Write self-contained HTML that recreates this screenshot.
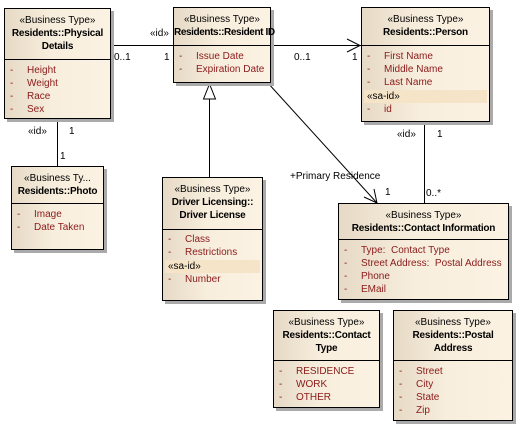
<!DOCTYPE html>
<html><head><meta charset="utf-8"><style>
body{margin:0;width:522px;height:428px;background:#fff;position:relative;overflow:hidden;font-family:"Liberation Sans",Arial,sans-serif;font-size:10px;}
.b{position:absolute;border:1px solid #000;background:linear-gradient(90deg,#e6dac6,#f8eedd 45%,#fbf2e3);box-shadow:3px 3px 0 #aaa;box-sizing:border-box;}
.h{text-align:center;border-bottom:1px solid #000;box-sizing:border-box;padding-top:5px;line-height:13px;white-space:nowrap;}
.h b{font-weight:bold;color:#000;letter-spacing:-0.2px;}
.r{position:relative;height:13px;line-height:13px;color:#8b1a1a;white-space:nowrap;}
.r span{position:absolute;left:5px;}
.r i{font-style:normal;position:absolute;left:22px;}
.sa{margin:1px 2px 0;background:#f6e4c8;height:13px;line-height:13px;padding-left:3px;color:#000;}
.t{position:absolute;white-space:nowrap;line-height:11px;}
</style></head><body>
<svg width="522" height="428" style="position:absolute;left:0;top:0" xmlns="http://www.w3.org/2000/svg">
<g stroke="#000" fill="none" stroke-width="1">
<line x1="110" y1="45.5" x2="173" y2="45.5"/>
<line x1="270" y1="45.5" x2="361" y2="45.5"/>
<polyline points="347,39 360,45.5 347,52"/>
<line x1="57.5" y1="118" x2="57.5" y2="166"/>
<line x1="209.5" y1="99" x2="209.5" y2="177"/>
<polygon points="209.5,84 203.5,99 215.5,99" fill="#fff"/>
<line x1="267" y1="82" x2="377" y2="203"/>
<polyline points="364,197 377,203 374,189"/>
<line x1="424.5" y1="121" x2="424.5" y2="203"/>
</g></svg>
<div class="t" style="left:150px;top:28px">«id»</div>
<div class="t" style="left:114px;top:52px">0..1</div>
<div class="t" style="left:164px;top:52px">1</div>
<div class="t" style="left:294px;top:52px">0..1</div>
<div class="t" style="left:352px;top:52px">1</div>
<div class="t" style="left:28px;top:126px">«id»</div>
<div class="t" style="left:69px;top:126px">1</div>
<div class="t" style="left:60px;top:151px">1</div>
<div class="t" style="left:290px;top:171px">+Primary Residence</div>
<div class="t" style="left:385px;top:187px">1</div>
<div class="t" style="left:397px;top:129px">«id»</div>
<div class="t" style="left:437px;top:129px">1</div>
<div class="t" style="left:426px;top:188px">0..*</div>

<div class="b" style="left:4px;top:8px;width:107px;height:111px">
<div class="h" style="height:51px">«Business Type»<br><b>Residents::Physical<br>Details</b></div>
<div style="padding-top:4px"><div class="r"><span>-</span><i>Height</i></div><div class="r"><span>-</span><i>Weight</i></div><div class="r"><span>-</span><i>Race</i></div><div class="r"><span>-</span><i>Sex</i></div></div>
</div>

<div class="b" style="left:173px;top:7px;width:98px;height:76px">
<div class="h" style="height:38px">«Business Type»<br><b style="letter-spacing:-0.4px">Residents::Resident ID</b></div>
<div style="padding-top:4px"><div class="r"><span>-</span><i>Issue Date</i></div><div class="r"><span>-</span><i>Expiration Date</i></div></div>
</div>

<div class="b" style="left:361px;top:7px;width:129px;height:115px">
<div class="h" style="height:38px">«Business Type»<br><b>Residents::Person</b></div>
<div style="padding-top:4px"><div class="r"><span>-</span><i>First Name</i></div><div class="r"><span>-</span><i>Middle Name</i></div><div class="r"><span>-</span><i>Last Name</i></div>
<div class="sa">«sa-id»</div><div class="r"><span>-</span><i>id</i></div></div>
</div>

<div class="b" style="left:11px;top:166px;width:93px;height:84px">
<div class="h" style="height:37px">«Business Ty...<br><b>Residents::Photo</b></div>
<div style="padding-top:4px"><div class="r"><span>-</span><i>Image</i></div><div class="r"><span>-</span><i>Date Taken</i></div></div>
</div>

<div class="b" style="left:162px;top:177px;width:101px;height:124px">
<div class="h" style="height:52px">«Business Type»<br><b>Driver Licensing::<br>Driver License</b></div>
<div style="padding-top:3px"><div class="r"><span>-</span><i>Class</i></div><div class="r"><span>-</span><i>Restrictions</i></div>
<div class="sa">«sa-id»</div><div class="r"><span>-</span><i>Number</i></div></div>
</div>

<div class="b" style="left:338px;top:203px;width:171px;height:97px">
<div class="h" style="height:36px">«Business Type»<br><b>Residents::Contact Information</b></div>
<div style="padding-top:4px"><div class="r"><span>-</span><i>Type:&nbsp; Contact Type</i></div><div class="r"><span>-</span><i>Street Address:&nbsp; Postal Address</i></div><div class="r"><span>-</span><i>Phone</i></div><div class="r"><span>-</span><i>EMail</i></div></div>
</div>

<div class="b" style="left:273px;top:310px;width:107px;height:98px">
<div class="h" style="height:50px">«Business Type»<br><b>Residents::Contact<br>Type</b></div>
<div style="padding-top:4px"><div class="r"><span>-</span><i>RESIDENCE</i></div><div class="r"><span>-</span><i>WORK</i></div><div class="r"><span>-</span><i>OTHER</i></div></div>
</div>

<div class="b" style="left:393px;top:310px;width:120px;height:111px">
<div class="h" style="height:50px">«Business Type»<br><b>Residents::Postal<br>Address</b></div>
<div style="padding-top:4px"><div class="r"><span>-</span><i>Street</i></div><div class="r"><span>-</span><i>City</i></div><div class="r"><span>-</span><i>State</i></div><div class="r"><span>-</span><i>Zip</i></div></div>
</div>
</body></html>
